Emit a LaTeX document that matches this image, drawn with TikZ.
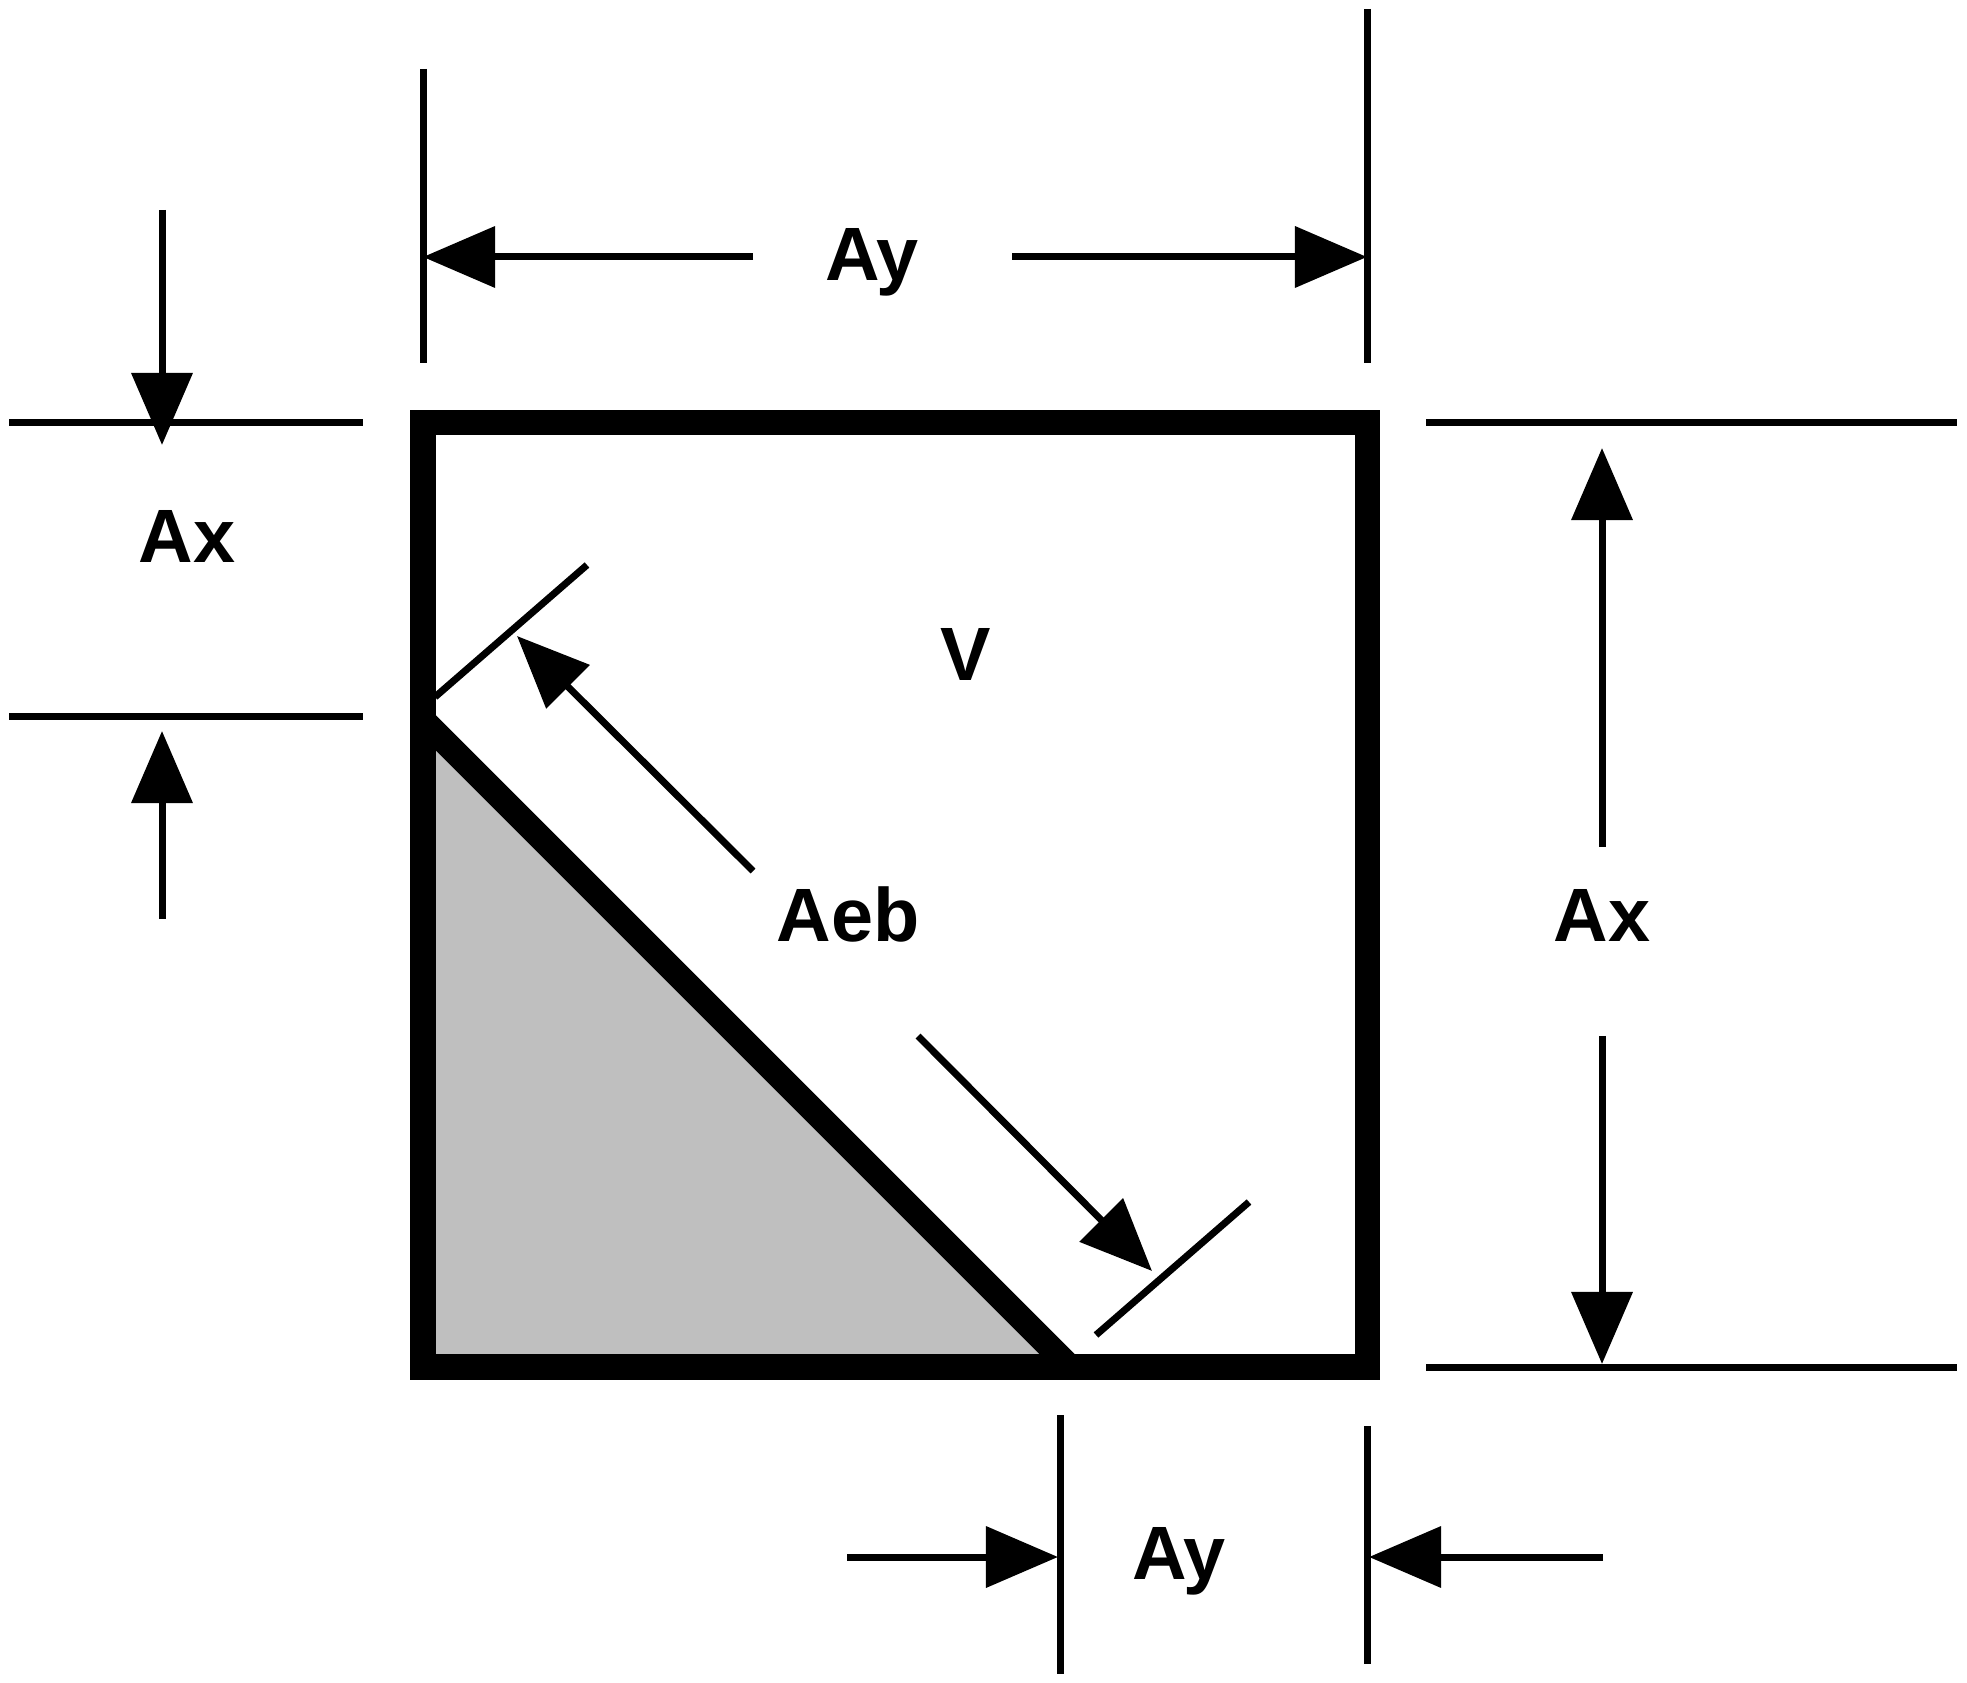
\documentclass[tikz,border=0pt]{standalone}
\usepackage{fontspec}
\setmainfont{Liberation Sans}
\usetikzlibrary{arrows.meta,positioning}

\begin{document}
\begin{tikzpicture}[x=0.01cm, y=-0.01cm,
  wall/.style={line width=2.5mm, line join=miter},
  ext/.style={line width=0.7mm},
  dim/.style={line width=0.7mm, -{Triangle[length=7.2mm,width=6mm]}},
  lbl/.style={font=\fontsize{21.5}{26}\selectfont\bfseries, inner sep=0pt, anchor=base}
]
\useasboundingbox (0,0) rectangle (1967,1683);

% box and diagonal
\coordinate (tl) at (423,423);
\coordinate (br) at (1367,1367);
\coordinate (bl) at (423,1367);
\coordinate (dA) at (423,720);
\coordinate (dB) at (1070,1367);
\fill[gray!50] (dA) -- (bl) -- (dB) -- cycle;
\draw[wall] (tl) rectangle (br);
\draw[wall] (dA) -- (dB);

% labels
\node[lbl] (vol) at (966,681) {V};
\node[lbl] (aeb) at (848,942) {Aeb};
\node[lbl] (ayTop) at (872,281) {Ay};
\node[lbl] (ayBot) at (1179,1579) {Ay};
\node[lbl] (axLeft) at (187,563) {Ax};
\node[lbl] (axRight) at (1602,942) {Ax};

% top Ay
\coordinate (tA1) at (423,69);    \coordinate (tA2) at (423,363);
\coordinate (tB1) at (1367,9);    \coordinate (tB2) at (1367,363);
\coordinate (tS1) at (753,257);   \coordinate (tT1) at (423,257);
\coordinate (tS2) at (1012,257);  \coordinate (tT2) at (1367,257);
\draw[ext] (tA1) -- (tA2);
\draw[ext] (tB1) -- (tB2);
\draw[dim] (tS1) -- (tT1);
\draw[dim] (tS2) -- (tT2);

% left Ax
\coordinate (lA1) at (9,423);     \coordinate (lA2) at (363,423);
\coordinate (lB1) at (9,717);     \coordinate (lB2) at (363,717);
\coordinate (lS1) at (162,210);   \coordinate (lT1) at (162,445);
\coordinate (lS2) at (162,919);   \coordinate (lT2) at (162,731);
\draw[ext] (lA1) -- (lA2);
\draw[ext] (lB1) -- (lB2);
\draw[dim] (lS1) -- (lT1);
\draw[dim] (lS2) -- (lT2);

% right Ax
\coordinate (rA1) at (1426,423);  \coordinate (rA2) at (1957,423);
\coordinate (rB1) at (1426,1367); \coordinate (rB2) at (1957,1367);
\coordinate (rS1) at (1602,847);  \coordinate (rT1) at (1602,448);
\coordinate (rS2) at (1602,1036); \coordinate (rT2) at (1602,1364);
\draw[ext] (rA1) -- (rA2);
\draw[ext] (rB1) -- (rB2);
\draw[dim] (rS1) -- (rT1);
\draw[dim] (rS2) -- (rT2);

% bottom Ay
\coordinate (bA1) at (1060,1415); \coordinate (bA2) at (1060,1674);
\coordinate (bB1) at (1367,1426); \coordinate (bB2) at (1367,1664);
\coordinate (bS1) at (847,1557);  \coordinate (bT1) at (1058,1557);
\coordinate (bS2) at (1603,1557); \coordinate (bT2) at (1369,1557);
\draw[ext] (bA1) -- (bA2);
\draw[ext] (bB1) -- (bB2);
\draw[dim] (bS1) -- (bT1);
\draw[dim] (bS2) -- (bT2);

% diagonal Aeb
\coordinate (eA1) at (435,697);   \coordinate (eA2) at (587,565);
\coordinate (eB1) at (1096,1335); \coordinate (eB2) at (1249,1202);
\coordinate (eS1) at (753,871);   \coordinate (eT1) at (517,636);
\coordinate (eS2) at (918,1036);  \coordinate (eT2) at (1152,1271);
\draw[ext] (eA1) -- (eA2);
\draw[ext] (eB1) -- (eB2);
\draw[dim] (eS1) -- (eT1);
\draw[dim] (eS2) -- (eT2);
\end{tikzpicture}
\end{document}
